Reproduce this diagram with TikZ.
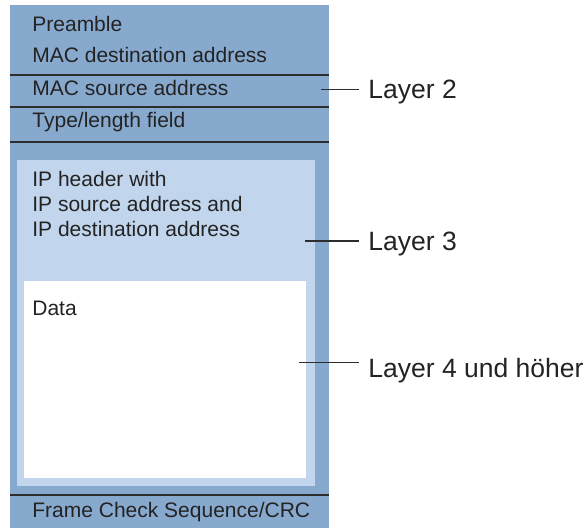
\documentclass[tikz,border=0pt]{standalone}
\usepackage{fontspec}
\setmainfont{Liberation Sans}
\definecolor{c1}{RGB}{135,169,206}
\definecolor{c2}{RGB}{193,213,237}
\definecolor{c3}{RGB}{45,45,45}
\definecolor{c4}{RGB}{35,35,35}

\begin{document}
\begin{tikzpicture}[x=0.5pt,y=-0.5pt,
    field/.style={anchor=base west,inner sep=0pt,text=c4,font=\fontsize{10.5}{12.5}\selectfont},
    layer/.style={anchor=base west,inner xsep=4.5pt,inner ysep=0pt,text=c4,font=\fontsize{13.25}{15}\selectfont},
    sep/.style={draw=c3,line width=0.7pt}]
    \useasboundingbox (0,0) rectangle (587,528);
    \begin{scope} %frame
        \fill[c1] (10,5) rectangle (329,528);
        \fill[c2] (17,160) rectangle (315,486);
        \fill[white] (24,281) rectangle (306,478);
        \draw[sep] (10,75) -- (329,75);
        \draw[sep] (10,107) -- (329,107);
        \draw[sep] (10,142) -- (329,142);
        \draw[sep] (10,495) -- (329,495);
    \end{scope}
    % fields of the frame
    \node[field] (pre) at (32,32) {Preamble};
    \node[field] (dst) at (32,63) {MAC destination address};
    \node[field] (src) at (32,96) {MAC source address};
    \node[field] (typ) at (32,128) {Type/length field};
    % base of the last line
    \node[field,align=left] (iph) at (32,237) {IP header with\\IP source address and\\IP destination address};
    \node[field] (dat) at (32,315) {Data};
    \node[field] (fcs) at (32,517) {Frame Check Sequence/CRC};
    % layers
    \coordinate (l2) at (321,89.5);
    \coordinate (l3) at (305,241);
    \coordinate (l4) at (299,362.5);
    \node[layer] (L2) at (359,99) {Layer 2};
    \node[layer] (L3) at (359,251) {Layer 3};
    \node[layer] (L4) at (359,377) {Layer 4 und höher};
    \draw[sep] (l2) -- (l2 -| L2.west);
    \draw[sep] (l3) -- (l3 -| L3.west);
    \draw[sep] (l4) -- (l4 -| L4.west);
\end{tikzpicture}
\end{document}
